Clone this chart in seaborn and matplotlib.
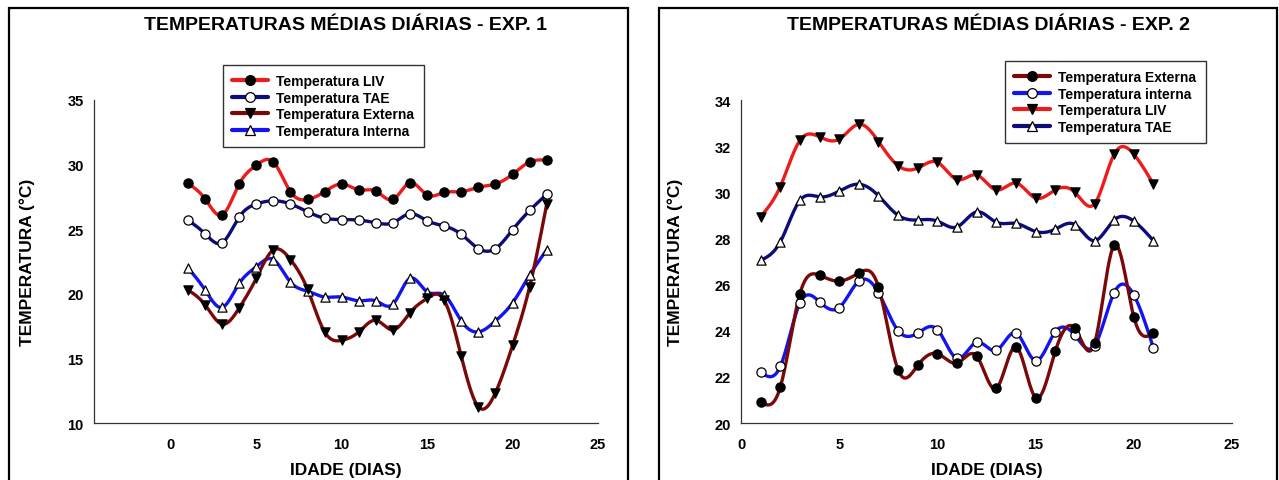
import numpy as np
import pandas as pd
import matplotlib
matplotlib.use("Agg")
import matplotlib.pyplot as plt
import seaborn as sns
from matplotlib.lines import Line2D
from matplotlib.patches import Rectangle

# ---- data ----
dias_exp1 = list(range(1, 23))
liv_exp1 = [28.55, 27.35, 26.1, 28.5, 29.95, 30.2, 27.9, 27.3, 27.9, 28.5, 28.05,
            27.95, 27.3, 28.6, 27.65, 27.85, 27.9, 28.25, 28.5, 29.25, 30.2, 30.35]
tae_exp1 = [25.7, 24.65, 23.95, 25.95, 26.95, 27.2, 26.95, 26.35, 25.85, 25.75, 25.7,
            25.5, 25.5, 26.2, 25.65, 25.25, 24.6, 23.5, 23.5, 24.95, 26.45, 27.7]
ext_exp1 = [20.3, 19.15, 17.65, 18.9, 21.2, 23.4, 22.65, 20.35, 17.05, 16.4, 17.05,
            17.95, 17.2, 18.55, 19.65, 19.5, 15.15, 11.25, 12.35, 16.0, 20.55, 26.95]
int_exp1 = [22.0, 20.3, 18.95, 20.8, 22.1, 22.65, 20.9, 20.2, 19.75, 19.75, 19.45,
            19.45, 19.2, 21.2, 20.15, 19.9, 17.9, 17.05, 17.9, 19.3, 21.45, 23.4]

dias_exp2 = list(range(1, 22))
ext_exp2 = [20.9, 21.55, 25.6, 26.4, 26.15, 26.5, 25.9, 22.3, 22.5, 23.0, 22.6,
            22.9, 21.5, 23.3, 21.1, 23.1, 24.1, 23.45, 27.7, 24.6, 23.9]
int_exp2 = [22.2, 22.45, 25.2, 25.25, 25.0, 26.15, 25.65, 24.0, 23.9, 24.05, 22.8,
            23.5, 23.15, 23.9, 22.7, 23.95, 23.8, 23.35, 25.65, 25.55, 23.25]
liv_exp2 = [28.95, 30.25, 32.25, 32.4, 32.3, 32.95, 32.2, 31.15, 31.05, 31.3, 30.55,
            30.75, 30.1, 30.4, 29.75, 30.1, 30.0, 29.5, 31.65, 31.65, 30.35]
tae_exp2 = [27.05, 27.85, 29.65, 29.8, 30.05, 30.35, 29.85, 29.0, 28.8, 28.75, 28.5,
            29.15, 28.7, 28.65, 28.3, 28.4, 28.6, 27.9, 28.8, 28.75, 27.9]

RED = "#ec1c1c"
NAVY = "#0c0c7a"
MAROON = "#7a0808"
BLUE = "#1414f0"

FONT = "Liberation Sans"


def natural_spline(x, y, n=500):
    """Smooth curve through the points (natural cubic spline), like SigmaPlot."""
    x = np.asarray(x, float)
    y = np.asarray(y, float)
    k = len(x)
    h = np.diff(x)
    A = np.zeros((k, k))
    b = np.zeros(k)
    A[0, 0] = A[-1, -1] = 1.0
    for i in range(1, k - 1):
        A[i, i - 1] = h[i - 1]
        A[i, i] = 2 * (h[i - 1] + h[i])
        A[i, i + 1] = h[i]
        b[i] = 6 * ((y[i + 1] - y[i]) / h[i] - (y[i] - y[i - 1]) / h[i - 1])
    M = np.linalg.solve(A, b)
    xs = np.linspace(x[0], x[-1], n)
    idx = np.clip(np.searchsorted(x, xs) - 1, 0, k - 2)
    x0, x1 = x[idx], x[idx + 1]
    hh = x1 - x0
    ys = (M[idx] * (x1 - xs) ** 3 / (6 * hh) + M[idx + 1] * (xs - x0) ** 3 / (6 * hh)
          + (y[idx] / hh - M[idx] * hh / 6) * (x1 - xs)
          + (y[idx + 1] / hh - M[idx + 1] * hh / 6) * (xs - x0))
    return xs, ys


def draw_series(ax, x, y, color, marker, face):
    xs, ys = natural_spline(x, y)
    sns.lineplot(x=xs, y=ys, ax=ax, color=color, linewidth=2.4, sort=False,
                 estimator=None, zorder=2)
    sns.scatterplot(x=x, y=y, ax=ax, marker=marker, s=44, color=face,
                    edgecolor="black", linewidth=0.9, zorder=3)
    return Line2D([], [], color=color, linewidth=3, marker=marker, markersize=7,
                  markerfacecolor=face, markeredgecolor="black", markeredgewidth=0.9)


def style_axes(ax, xlim, ylim, yticks):
    ax.set_xlim(*xlim)
    ax.set_ylim(*ylim)
    ax.set_xticks([0, 5, 10, 15, 20, 25])
    ax.set_yticks(yticks)
    for side in ["top", "right"]:
        ax.spines[side].set_visible(False)
    for side in ["left", "bottom"]:
        ax.spines[side].set_linewidth(0.9)
        ax.spines[side].set_color("#333333")
    ax.tick_params(axis="x", length=4, width=0.9, pad=6, color="#333333", labelcolor="black")
    ax.tick_params(axis="y", length=4.5, width=0.9, pad=3, color="#333333", labelcolor="black")
    for lab in ax.get_xticklabels() + ax.get_yticklabels():
        lab.set_fontfamily(FONT)
        lab.set_fontweight("bold")
        lab.set_fontsize(10.5)
    ax.set_xlabel("IDADE (DIAS)", fontsize=12.5, fontweight="bold", family=FONT, color="black")
    ax.set_ylabel("TEMPERATURA (°C)", fontsize=12.5, fontweight="bold", family=FONT, color="black")
    ax.xaxis.set_label_coords(0.5, -0.145)
    ax.xaxis.label.set_va("center")
    ax.yaxis.set_label_coords(-0.133, 0.5)
    ax.yaxis.label.set_va("center")
    ax.grid(False)


sns.set_style("white")
plt.rcParams["font.family"] = [FONT, "DejaVu Sans"]
plt.rcParams["text.color"] = "black"
plt.rcParams["axes.labelcolor"] = "black"

W, H = 1279, 481
fig = plt.figure(figsize=(W / 100, H / 100), dpi=100)

# panel frames
for x0, x1 in [(9, 628), (659, 1277)]:
    fig.patches.append(Rectangle((x0 / W, -0.05), (x1 - x0) / W, 1.05 - 9 / H,
                                 transform=fig.transFigure, fill=False,
                                 edgecolor="black", linewidth=1.6))

ax1 = fig.add_axes([94 / W, 1 - 424 / H, 504 / W, 323 / H])
ax2 = fig.add_axes([741 / W, 1 - 424 / H, 491 / W, 323 / H])

# ---- Exp. 1 ----
h1 = [
    draw_series(ax1, dias_exp1, int_exp1, BLUE, "^", "white"),
    draw_series(ax1, dias_exp1, ext_exp1, MAROON, "v", "black"),
    draw_series(ax1, dias_exp1, tae_exp1, NAVY, "o", "white"),
    draw_series(ax1, dias_exp1, liv_exp1, RED, "o", "black"),
][::-1]
labels1 = ["Temperatura LIV", "Temperatura TAE", "Temperatura Externa", "Temperatura Interna"]
style_axes(ax1, (-4.5, 25), (10, 35), [10, 15, 20, 25, 30, 35])

# ---- Exp. 2 ----
h2 = [
    draw_series(ax2, dias_exp2, tae_exp2, NAVY, "^", "white"),
    draw_series(ax2, dias_exp2, liv_exp2, RED, "v", "black"),
    draw_series(ax2, dias_exp2, int_exp2, BLUE, "o", "white"),
    draw_series(ax2, dias_exp2, ext_exp2, MAROON, "o", "black"),
][::-1]
labels2 = ["Temperatura Externa", "Temperatura interna", "Temperatura LIV", "Temperatura TAE"]
style_axes(ax2, (0, 25), (20, 34), [20, 22, 24, 26, 28, 30, 32, 34])

for handles, labels, (lx, ly) in [(h1, labels1, (223, 66)), (h2, labels2, (1005, 62))]:
    leg = fig.legend(handles, labels, loc="upper left",
                     bbox_to_anchor=(lx / W, 1 - ly / H), bbox_transform=fig.transFigure,
                     borderaxespad=0, frameon=True, fancybox=False, handlelength=2.6,
                     handletextpad=0.6, labelspacing=0.18, borderpad=0.65,
                     prop={"family": FONT, "weight": "bold", "size": 10})
    leg.get_frame().set_edgecolor("black")
    leg.get_frame().set_linewidth(1.0)
    for t in leg.get_texts():
        t.set_color("black")

fig.text(346 / W, 1 - 26 / H, "TEMPERATURAS MÉDIAS DIÁRIAS - EXP. 1",
         ha="center", va="center", fontsize=14, fontweight="bold", family=FONT, color="black")
fig.text(988 / W, 1 - 26 / H, "TEMPERATURAS MÉDIAS DIÁRIAS - EXP. 2",
         ha="center", va="center", fontsize=14, fontweight="bold", family=FONT, color="black")

fig.savefig("out.png", dpi=100)
